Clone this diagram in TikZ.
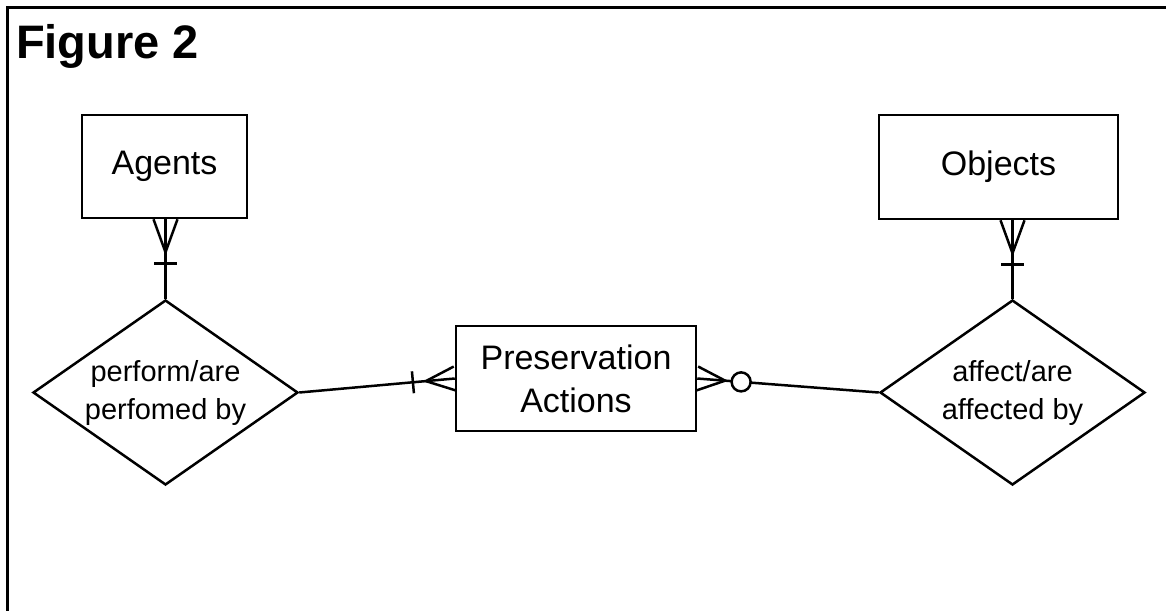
\documentclass[tikz,border=0pt]{standalone}
\usepackage{fontspec}
\setmainfont{Liberation Sans}
\usetikzlibrary{shapes.geometric,calc}
\begin{document}
\begin{tikzpicture}[x=1pt,y=-1pt,
  entity/.style={draw,line width=2.5pt,rectangle,inner sep=0pt,align=center,font=\fontsize{34}{43}\selectfont},
  rel/.style={draw,line width=2.5pt,diamond,shape aspect=1.43,inner sep=0pt,minimum width=265pt,minimum height=185pt,align=center,font=\fontsize{29}{38}\selectfont},
  conn/.style={line width=2.5pt},
  titletext/.style={inner sep=0pt,anchor=base west,font=\fontsize{47}{50}\selectfont\bfseries}]
\useasboundingbox (0,0) rectangle (1166,611);
\draw[line width=3pt] (1166,7) -- (7,7) -- (7,611);
\node[titletext] (title) at (16,58) {Figure 2};

\node[entity,minimum width=165pt,minimum height=103pt] (ag) at (164.5,166.5) {Agents};
\node[entity,minimum width=239pt,minimum height=104pt] (ob) at (998.5,167) {Objects};
\node[entity,minimum width=240pt,minimum height=105pt] (pa) at (576,378.5) {Preservation\\Actions};
\node[rel] (dl) at (165.5,392.5) {perform/are\\perfomed by};
\node[rel] (dr) at (1012.5,392.5) {affect/are\\affected by};

% Agents -- perform
\coordinate (agb) at (dl.north |- ag.south);
\draw[conn] (dl.north) -- (agb);
\coordinate (agc) at ($(agb)+(0,33)$);
\draw[conn] ($(agb)+(-12,0)$) -- (agc) -- ($(agb)+(12,0)$);
\draw[conn] ($(agb)+(-11.5,44)$) -- ($(agb)+(11.5,44)$);

% Objects -- affect
\coordinate (obb) at (dr.north |- ob.south);
\draw[conn] (dr.north) -- (obb);
\coordinate (obc) at ($(obb)+(0,33)$);
\draw[conn] ($(obb)+(-12,0)$) -- (obc) -- ($(obb)+(12,0)$);
\draw[conn] ($(obb)+(-11.5,44)$) -- ($(obb)+(11.5,44)$);

% perform -- Preservation Actions
\draw[conn] (dl.east) -- (pa.west);
\coordinate (plc) at ($(pa.west)!29pt!(dl.east)$);
\draw[conn] ($(pa.west)!12pt!90:(dl.east)$) -- (plc) -- ($(pa.west)!12pt!-90:(dl.east)$);
\coordinate (plb) at ($(pa.west)!42pt!(dl.east)$);
\draw[conn] ($(plb)!11pt!90:(dl.east)$) -- ($(plb)!11pt!-90:(dl.east)$);

% Preservation Actions -- affect
\draw[conn] (pa.east) -- (dr.west);
\coordinate (prc) at ($(pa.east)!28pt!(dr.west)$);
\draw[conn] ($(pa.east)!12pt!90:(dr.west)$) -- (prc) -- ($(pa.east)!12pt!-90:(dr.west)$);
\node[draw,line width=2.5pt,circle,fill=white,minimum size=19pt,inner sep=0pt] (pro) at ($(pa.east)!44pt!(dr.west)$) {};
\end{tikzpicture}
\end{document}
